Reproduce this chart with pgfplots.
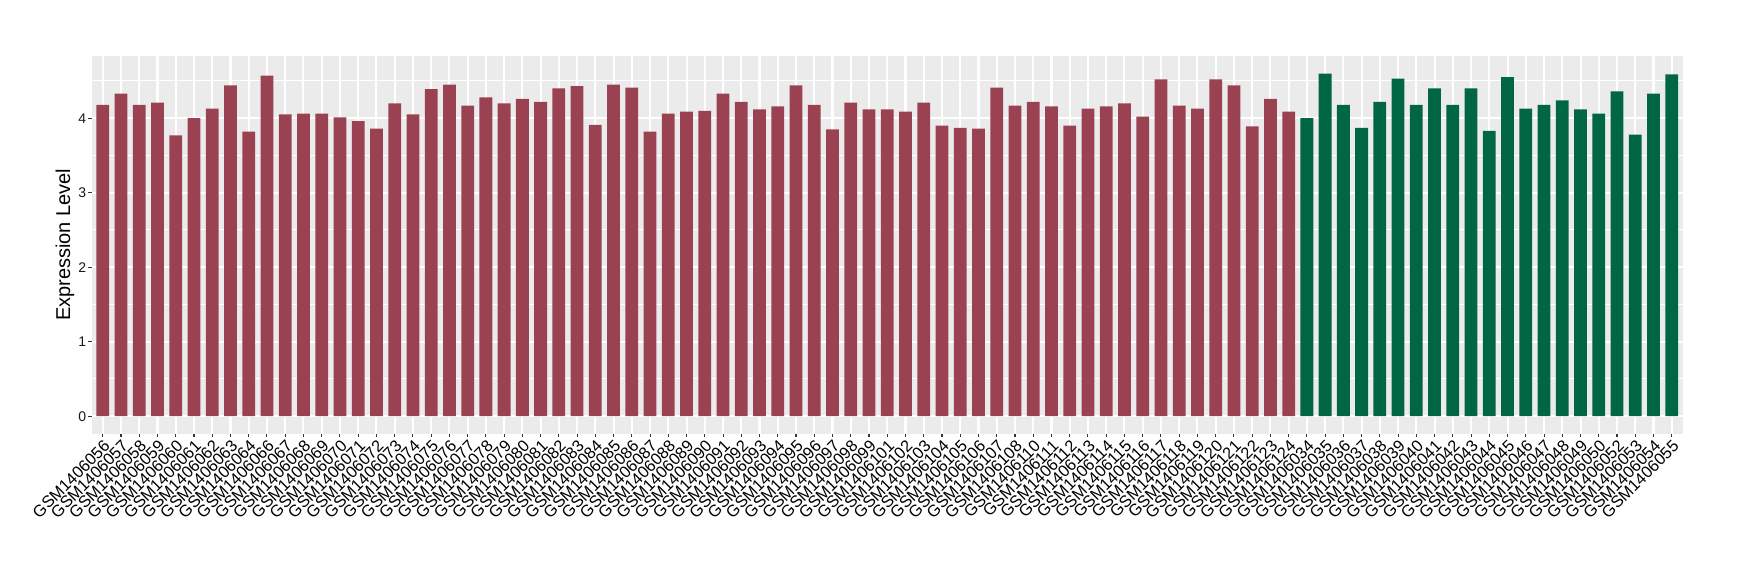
\documentclass[border=0pt]{standalone}
\usepackage{pgfplots}
\pgfplotsset{compat=1.18}
\usepackage{fontspec}
\setmainfont{Liberation Sans}
\definecolor{maroonbar}{HTML}{9B4252}
\definecolor{greenbar}{HTML}{006644}
\definecolor{panelbg}{HTML}{EBEBEB}
\definecolor{tickcol}{HTML}{333333}
\begin{document}
\begin{tikzpicture}
\path[use as bounding box] (-45.9bp,-73.25bp) rectangle (824.1bp,216.75bp);
\begin{axis}[
  at={(0,0)}, anchor=south west,
  scale only axis,
  width=795.45bp, height=188.75bp,
  xmin=-0.6, xmax=86.6,
  ymin=-0.232, ymax=4.835,
  axis background/.style={fill=panelbg},
  axis line style={draw=none},
  tick align=outside,
  xtick pos=lower, ytick pos=left,
  major tick length=1.8bp,
  minor tick length=0pt,
  tick style={color=tickcol, line width=0.55bp},
  xmajorgrids, ymajorgrids, yminorgrids,
  major grid style={white, line width=1.05bp},
  minor grid style={white, line width=0.5bp},
  ytick={0,1,2,3,4},
  minor ytick={0.5,1.5,2.5,3.5,4.5},
  /pgf/number format/assume math mode=true,
  yticklabel style={font=\fontsize{7bp}{8bp}\selectfont, text=black!90, inner sep=0.8bp},
  xtick={0,...,86},
  xticklabels={GSM1406056,GSM1406057,GSM1406058,GSM1406059,GSM1406060,GSM1406061,GSM1406062,GSM1406063,GSM1406064,GSM1406066,GSM1406067,GSM1406068,GSM1406069,GSM1406070,GSM1406071,GSM1406072,GSM1406073,GSM1406074,GSM1406075,GSM1406076,GSM1406077,GSM1406078,GSM1406079,GSM1406080,GSM1406081,GSM1406082,GSM1406083,GSM1406084,GSM1406085,GSM1406086,GSM1406087,GSM1406088,GSM1406089,GSM1406090,GSM1406091,GSM1406092,GSM1406093,GSM1406094,GSM1406095,GSM1406096,GSM1406097,GSM1406098,GSM1406099,GSM1406101,GSM1406102,GSM1406103,GSM1406104,GSM1406105,GSM1406106,GSM1406107,GSM1406108,GSM1406110,GSM1406111,GSM1406112,GSM1406113,GSM1406114,GSM1406115,GSM1406116,GSM1406117,GSM1406118,GSM1406119,GSM1406120,GSM1406121,GSM1406122,GSM1406123,GSM1406124,GSM1406034,GSM1406035,GSM1406036,GSM1406037,GSM1406038,GSM1406039,GSM1406040,GSM1406041,GSM1406042,GSM1406043,GSM1406044,GSM1406045,GSM1406046,GSM1406047,GSM1406048,GSM1406049,GSM1406050,GSM1406052,GSM1406053,GSM1406054,GSM1406055},
  xticklabel style={font=\fontsize{8.2bp}{9.5bp}\selectfont, text=black, rotate=45, anchor=north east, inner sep=0.6bp},
  ylabel={Expression Level},
  every axis y label/.style={at={(axis description cs:0,0.5)}, xshift=-13.4bp, rotate=90, anchor=center, font=\fontsize{10bp}{12bp}\selectfont},
  ybar, bar width=0.7,
]
\addplot[ybar, bar shift=0pt, fill=maroonbar, draw=none] table[x=x, y=y] {
x y
0 4.18
1 4.33
2 4.18
3 4.21
4 3.77
5 4.00
6 4.13
7 4.44
8 3.82
9 4.57
10 4.05
11 4.06
12 4.06
13 4.01
14 3.96
15 3.86
16 4.20
17 4.05
18 4.39
19 4.45
20 4.17
21 4.28
22 4.20
23 4.26
24 4.22
25 4.40
26 4.43
27 3.91
28 4.45
29 4.41
30 3.82
31 4.06
32 4.09
33 4.10
34 4.33
35 4.22
36 4.12
37 4.16
38 4.44
39 4.18
40 3.85
41 4.21
42 4.12
43 4.12
44 4.09
45 4.21
46 3.90
47 3.87
48 3.86
49 4.41
50 4.17
51 4.22
52 4.16
53 3.90
54 4.13
55 4.16
56 4.20
57 4.02
58 4.52
59 4.17
60 4.13
61 4.52
62 4.44
63 3.89
64 4.26
65 4.09
};
\addplot[ybar, bar shift=0pt, fill=greenbar, draw=none] table[x=x, y=y] {
x y
66 4.00
67 4.60
68 4.18
69 3.87
70 4.22
71 4.53
72 4.18
73 4.40
74 4.18
75 4.40
76 3.83
77 4.55
78 4.13
79 4.18
80 4.24
81 4.12
82 4.06
83 4.36
84 3.78
85 4.33
86 4.59
};
\end{axis}
\end{tikzpicture}
\end{document}
